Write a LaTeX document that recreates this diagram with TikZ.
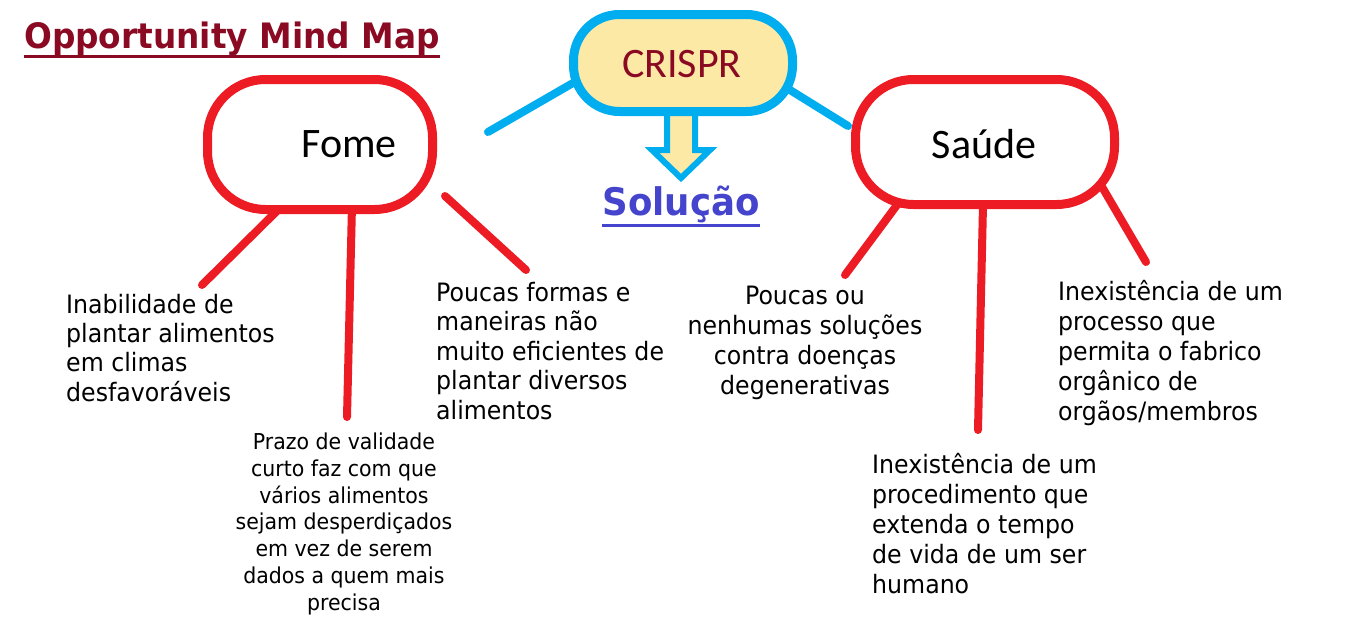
\documentclass[tikz,border=0pt]{standalone}
\usepackage{fontspec}
\setmainfont{DejaVu Sans Condensed}[FakeStretch=1.04]
\newfontfamily\calfont{Carlito}
\definecolor{mapred}{HTML}{ED1C24}
\definecolor{mapcyan}{HTML}{00AEEF}
\definecolor{mapyellow}{HTML}{FCE9A6}
\definecolor{darkred}{HTML}{8B0A23}
\definecolor{solblue}{HTML}{4444CC}
\begin{document}
\begin{tikzpicture}[x=1pt,y=-1pt,
  redline/.style={draw=mapred,line width=8pt,line cap=round},
  blueline/.style={draw=mapcyan,line width=8pt,line cap=round},
  pill/.style={draw=mapred,line width=9pt,fill=white,rounded corners=58pt,inner sep=0pt},
  bigtxt/.style={inner sep=0pt,font=\calfont\fontsize{42}{50}\selectfont},
  bodyl/.style={inner sep=0pt,anchor=base west,align=left,font=\fontsize{25.3}{30}\selectfont},
  bodyc/.style={inner sep=0pt,anchor=base,align=center,font=\fontsize{25.3}{30}\selectfont},
  bodys/.style={inner sep=0pt,anchor=base,align=center,font=\fontsize{21.9}{26.7}\selectfont}]
\useasboundingbox (0,0) rectangle (1350,629);
\fill[white] (0,0) rectangle (1350,629);

% title
\node[inner sep=0pt,anchor=base west,text=darkred,font=\bfseries\fontsize{35}{40}\selectfont] (title) at (24,48) {Opportunity Mind Map};
\draw[darkred,line width=3pt] ([yshift=-8pt]title.base west) -- ([yshift=-8pt]title.base east);

% coordinates for free ends
\coordinate (bl1s) at (573,83);
\coordinate (bl1e) at (488,132);
\coordinate (bl2s) at (790,90);
\coordinate (bl2e) at (848,126);

\coordinate (f1s) at (280,208); \coordinate (f1e) at (202,285);
\coordinate (f2s) at (352,205); \coordinate (f2e) at (347,417);
\coordinate (f3s) at (445,196); \coordinate (f3e) at (526,270);
\coordinate (s1s) at (897,205); \coordinate (s1e) at (845,275);
\coordinate (s2s) at (983,205); \coordinate (s2e) at (978,430);
\coordinate (s3s) at (1098,180); \coordinate (s3e) at (1146,262);

% connectors
\draw[blueline] (bl1s) -- (bl1e);
\draw[blueline] (bl2s) -- (bl2e);
\draw[redline] (f1s) -- (f1e);
\draw[redline] (f2s) -- (f2e);
\draw[redline] (f3s) -- (f3e);
\draw[redline] (s1s) -- (s1e);
\draw[redline] (s2s) -- (s2e);
\draw[redline] (s3s) -- (s3e);

% block arrow
\draw[mapcyan,fill=mapyellow,line width=6pt,line join=miter]
  (667,100) -- (667,150) -- (652,150) -- (681,178) -- (710,150) -- (695,150) -- (695,100) -- cycle;

% main nodes
\node[draw=mapcyan,line width=9pt,fill=mapyellow,rounded corners=46pt,inner sep=0pt,
      minimum width=219pt,minimum height=97pt] (crispr) at (683,63) {};
\node[bigtxt,text=darkred] (crisprtxt) at (682,64) {CRISPR};

\node[pill,minimum width=225pt,minimum height=130pt] (fome) at (320,144.5) {};
\node[bigtxt] (fometxt) at (349,144) {Fome};
\node[pill,minimum width=259pt,minimum height=125pt] (saude) at (985,142) {};
\node[bigtxt] (saudetxt) at (984,144) {Saúde};

% solucao
\node[inner sep=0pt,anchor=base,text=solblue,font=\bfseries\fontsize{38}{44}\selectfont] (sol) at (681,215) {Solução};
\draw[solblue,line width=3pt] ([yshift=-10pt]sol.base west) -- ([yshift=-10pt]sol.base east);

% texts (anchor base = baseline of last line)
\node[bodyl,font=\fontsize{25.3}{29.3}\selectfont] (t1) at (66,401) {Inabilidade de\\plantar alimentos\\em climas\\desfavoráveis};
\node[bodys] (t2) at (344,610) {Prazo de validade\\curto faz com que\\vários alimentos\\sejam desperdiçados\\em vez de serem\\dados a quem mais\\precisa};
\node[bodyl,font=\fontsize{25.3}{29.5}\selectfont] (t3) at (436,419) {Poucas formas e\\maneiras não\\muito eficientes de\\plantar diversos\\alimentos};
\node[bodyc,font=\fontsize{25.3}{29.7}\selectfont] (t4) at (805,394) {Poucas ou\\nenhumas soluções\\contra doenças\\degenerativas};
\node[bodyl] (t5) at (1058,420) {Inexistência de um\\processo que\\permita o fabrico\\orgânico de\\orgãos/membros};
\node[bodyl] (t6) at (872,593) {Inexistência de um\\procedimento que\\extenda o tempo\\de vida de um ser\\humano};
\end{tikzpicture}
\end{document}
